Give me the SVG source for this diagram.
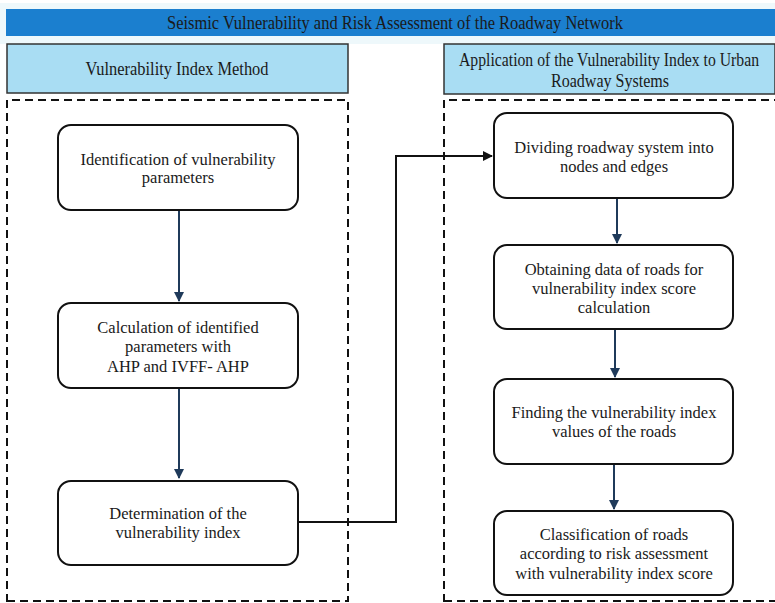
<svg xmlns="http://www.w3.org/2000/svg" width="775" height="603" viewBox="0 0 775 603">
<defs>
<style>
.t{font-family:"Liberation Serif","Times New Roman",serif;font-size:16.5px;fill:#1a1a1a;text-anchor:middle}
.h{font-family:"Liberation Serif","Times New Roman",serif;font-size:19px;fill:#1a1a1a;text-anchor:middle}
.h2{font-family:"Liberation Serif","Times New Roman",serif;font-size:18px;fill:#1a1a1a;text-anchor:middle}
.node{fill:#fff;stroke:#111;stroke-width:2}
.hdr{fill:#a9ddf3;stroke:#333;stroke-width:1.5}
.dash{fill:none;stroke:#111;stroke-width:2;stroke-dasharray:8,5}
.arr{stroke:#1f3a5a;stroke-width:2;fill:none}
.con{stroke:#111;stroke-width:2;fill:none}
</style>
<marker id="ah" viewBox="0 0 10 10" refX="9" refY="5" markerWidth="5" markerHeight="5" orient="auto"><path d="M0,0L10,5L0,10z" fill="#1f3a5a"/></marker>
<marker id="ahk" viewBox="0 0 10 10" refX="9" refY="5" markerWidth="5" markerHeight="5" orient="auto"><path d="M0,0L10,5L0,10z" fill="#111"/></marker>
</defs>
<rect x="0" y="0" width="775" height="603" fill="#fff"/>
<rect x="0" y="3" width="775" height="41" fill="#eef8fb"/>
<g id="title">
<rect x="6" y="9" width="769" height="27" fill="#1b7fcf"/>
<text class="h" x="395" y="29" textLength="456" lengthAdjust="spacingAndGlyphs">Seismic Vulnerability and Risk Assessment of the Roadway Network</text>
</g>
<g id="hdr-left">
<rect class="hdr" x="7" y="44" width="341" height="49"/>
<text class="h" x="177" y="75" textLength="183" lengthAdjust="spacingAndGlyphs">Vulnerability Index Method</text>
</g>
<g id="hdr-right">
<rect class="hdr" x="444" y="44" width="331" height="50"/>
<text class="h2" x="609" y="66" textLength="300" lengthAdjust="spacingAndGlyphs">Application of the Vulnerability Index to Urban</text>
<text class="h2" x="610" y="87" textLength="118" lengthAdjust="spacingAndGlyphs">Roadway Systems</text>
</g>
<g id="panel-left"><path class="dash" d="M7,602V100H348V602"/><path class="dash" d="M7,601H348"/></g>
<g id="panel-right"><path class="dash" d="M444,602V100H775"/><path class="dash" d="M444,601H775"/></g>
<g id="connectors">
<path class="arr" d="M179,210V301" marker-end="url(#ah)"/>
<path class="arr" d="M179,388V478" marker-end="url(#ah)"/>
<path class="con" d="M298,522H396V156H492" marker-end="url(#ahk)"/>
<path class="arr" d="M617,198V243" marker-end="url(#ah)"/>
<path class="arr" d="M615,329V377" marker-end="url(#ah)"/>
<path class="arr" d="M614,464V509" marker-end="url(#ah)"/>
</g>
<g id="n1"><rect class="node" x="58" y="125" width="240" height="85" rx="13"/>
<text class="t" x="178" y="165">Identification of vulnerability</text>
<text class="t" x="178" y="183">parameters</text></g>
<g id="n2"><rect class="node" x="58" y="303" width="240" height="85" rx="13"/>
<text class="t" x="178" y="333">Calculation of identified</text>
<text class="t" x="178" y="352">parameters with</text>
<text class="t" x="178" y="372">AHP and IVFF- AHP</text></g>
<g id="n3"><rect class="node" x="58" y="481" width="240" height="84" rx="13"/>
<text class="t" x="178" y="519">Determination of the</text>
<text class="t" x="178" y="538">vulnerability index</text></g>
<g id="n4"><rect class="node" x="494" y="113" width="239" height="85" rx="13"/>
<text class="t" x="614" y="153">Dividing roadway system into</text>
<text class="t" x="614" y="172">nodes and edges</text></g>
<g id="n5"><rect class="node" x="494" y="245" width="239" height="84" rx="13"/>
<text class="t" x="614" y="275">Obtaining data of roads for</text>
<text class="t" x="614" y="294">vulnerability index score</text>
<text class="t" x="614" y="313">calculation</text></g>
<g id="n6"><rect class="node" x="494" y="379" width="239" height="85" rx="13"/>
<text class="t" x="614" y="418">Finding the vulnerability index</text>
<text class="t" x="614" y="437">values of the roads</text></g>
<g id="n7"><rect class="node" x="494" y="511" width="239" height="84" rx="13"/>
<text class="t" x="614" y="540">Classification of roads</text>
<text class="t" x="614" y="559">according to risk assessment</text>
<text class="t" x="614" y="579">with vulnerability index score</text></g>
</svg>
